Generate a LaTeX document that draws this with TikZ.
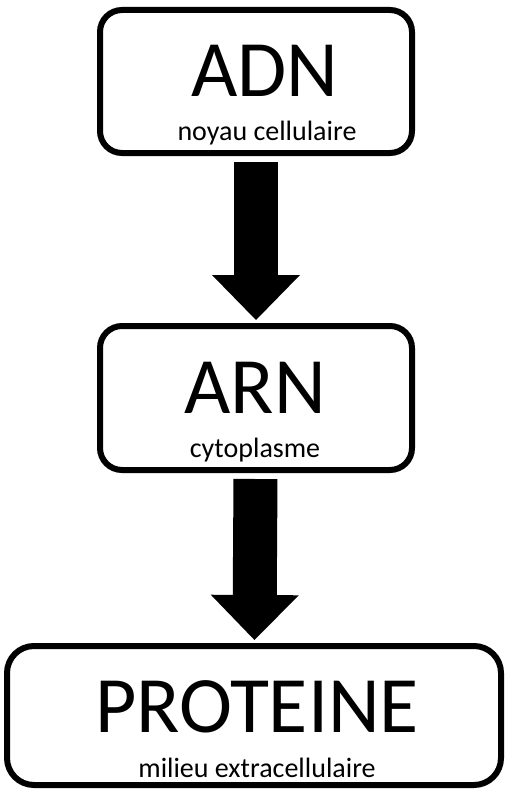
\documentclass[tikz,border=0pt]{standalone}
\usepackage{fontspec}
\setmainfont{Carlito}
\usetikzlibrary{arrows.meta}

\begin{document}
\begin{tikzpicture}[x=1pt,y=-1pt,
    box/.style={draw, line width=6pt, rounded corners=#1, inner sep=0pt},
    big/.style={font=\fontsize{80}{80}\selectfont, anchor=base},
    small/.style={font=\fontsize{28}{28}\selectfont, anchor=base},
    flow/.style={line width=44pt, -{Triangle[length=45pt,width=88pt,line width=0pt]},
                 shorten <=6pt, shorten >=3pt}
  ]
    \useasboundingbox (0,0) rectangle (508,789);

    % the three stages
    \node[box=22pt, minimum width=312pt, minimum height=143pt] (adn)  at (256,81.5) {};
    \node[box=22pt, minimum width=312pt, minimum height=144pt] (arn)  at (256,398)  {};
    \node[box=27pt, minimum width=494pt, minimum height=139pt] (prot) at (254,715.5) {};

    \node[big]   (adn-name)   at (265,97)  {ADN};
    \node[small] (adn-place)  at (267,140) {noyau cellulaire};
    \node[big]   (arn-name)   at (255,413) {ARN};
    \node[small] (arn-place)  at (255,457) {cytoplasme};
    \node[big]   (prot-name)  at (257,732) {PROTEINE};
    \node[small] (prot-place) at (257,777) {milieu extracellulaire};

    \path (adn) edge[flow] (arn)
          (arn) edge[flow] (prot);
\end{tikzpicture}
\end{document}
